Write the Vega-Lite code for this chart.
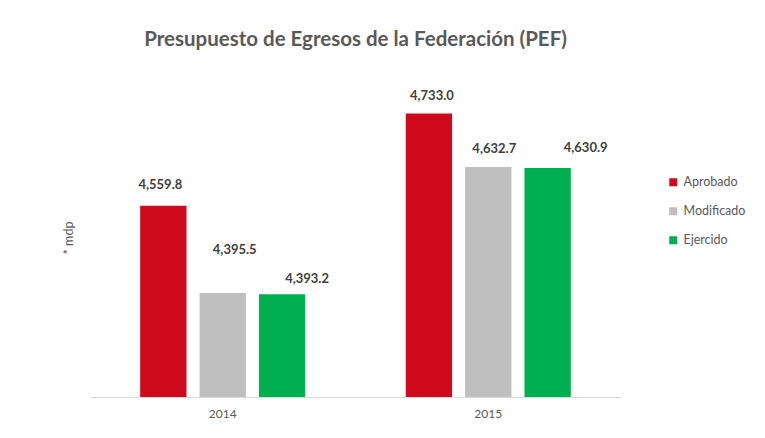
{
  "$schema": "https://vega.github.io/schema/vega-lite/v6.json",
  "autosize": {"type": "none"},
  "padding": {"left": 90, "top": 78, "right": 144, "bottom": 41},
  "width": 531,
  "height": 319,
  "background": "white",
  "config": {"view": {"stroke": null}, "font": "Lato"},
  "title": {"text": "Presupuesto de Egresos de la Federación (PEF)", "font": "Lato", "fontSize": 20.5, "fontWeight": "bold", "color": "#595959", "offset": 28, "anchor": "middle"},
  "data": {"values": [
    {"year": "2014", "serie": "Aprobado", "value": 4559.8, "label": "4,559.8"},
    {"year": "2014", "serie": "Modificado", "value": 4395.5, "label": "4,395.5"},
    {"year": "2014", "serie": "Ejercido", "value": 4393.2, "label": "4,393.2"},
    {"year": "2015", "serie": "Aprobado", "value": 4733.0, "label": "4,733.0"},
    {"year": "2015", "serie": "Modificado", "value": 4632.7, "label": "4,632.7"},
    {"year": "2015", "serie": "Ejercido", "value": 4630.9, "label": "4,630.9"}
  ]},
  "encoding": {
    "x": {"field": "year", "type": "nominal", "scale": {"paddingInner": 0.3785, "paddingOuter": 0.189},
      "axis": {"title": null, "labelAngle": 0, "ticks": false, "domainColor": "#D9D9D9", "domainWidth": 1, "labelColor": "#595959", "labelFontSize": 12, "labelPadding": 11, "labelFont": "Lato"}},
    "xOffset": {"field": "serie", "type": "nominal", "sort": ["Aprobado", "Modificado", "Ejercido"], "scale": {"paddingInner": 0.22, "paddingOuter": 0}},
    "y": {"field": "value", "type": "quantitative", "scale": {"domain": [4200, 4800], "zero": false, "nice": false},
      "axis": {"title": "* mdp", "labels": false, "ticks": false, "domain": false, "grid": false, "titleColor": "#595959", "titleFontSize": 12.5, "titleFontWeight": "normal", "titleFont": "Lato", "titlePadding": 15}}
  },
  "layer": [
    {
      "mark": {"type": "bar", "clip": true},
      "encoding": {
        "y2": {"datum": 4200},
        "color": {"field": "serie", "type": "nominal", "sort": ["Aprobado", "Modificado", "Ejercido"],
          "scale": {"domain": ["Aprobado", "Modificado", "Ejercido"], "range": ["#CF0A1C", "#BFBFBF", "#00B050"]},
          "legend": {"title": null, "orient": "none", "legendX": 577, "legendY": 98, "symbolType": "square", "symbolSize": 64, "symbolStrokeWidth": 0, "labelFontSize": 12.5, "labelColor": "#595959", "labelFont": "Lato", "rowPadding": 16, "labelOffset": 4}}
      }
    },
    {
      "transform": [{"filter": "datum.year == '2014' && datum.serie == 'Aprobado'"}],
      "mark": {"type": "text", "fontWeight": "bold", "fontSize": 13, "color": "#404040", "baseline": "middle", "dx": -3, "dy": -21},
      "encoding": {"text": {"field": "label"}}
    },
    {
      "transform": [{"filter": "datum.year == '2014' && datum.serie == 'Modificado'"}],
      "mark": {"type": "text", "fontWeight": "bold", "fontSize": 13, "color": "#404040", "baseline": "middle", "dx": 12, "dy": -43},
      "encoding": {"text": {"field": "label"}}
    },
    {
      "transform": [{"filter": "datum.year == '2014' && datum.serie == 'Ejercido'"}],
      "mark": {"type": "text", "fontWeight": "bold", "fontSize": 13, "color": "#404040", "baseline": "middle", "dx": 25, "dy": -15},
      "encoding": {"text": {"field": "label"}}
    },
    {
      "transform": [{"filter": "datum.year == '2015' && datum.serie == 'Aprobado'"}],
      "mark": {"type": "text", "fontWeight": "bold", "fontSize": 13, "color": "#404040", "baseline": "middle", "dx": 3, "dy": -18},
      "encoding": {"text": {"field": "label"}}
    },
    {
      "transform": [{"filter": "datum.year == '2015' && datum.serie == 'Modificado'"}],
      "mark": {"type": "text", "fontWeight": "bold", "fontSize": 13, "color": "#404040", "baseline": "middle", "dx": 6, "dy": -18},
      "encoding": {"text": {"field": "label"}}
    },
    {
      "transform": [{"filter": "datum.year == '2015' && datum.serie == 'Ejercido'"}],
      "mark": {"type": "text", "fontWeight": "bold", "fontSize": 13, "color": "#404040", "baseline": "middle", "dx": 38, "dy": -20},
      "encoding": {"text": {"field": "label"}}
    }
  ]
}
